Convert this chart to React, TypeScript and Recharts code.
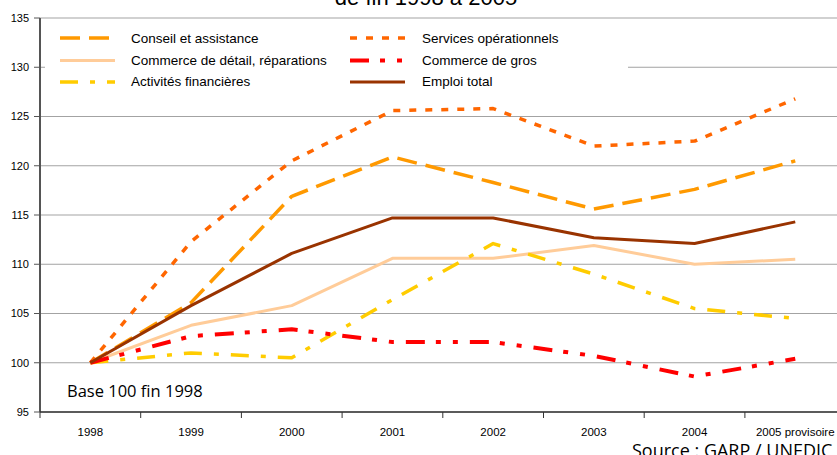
import React from 'react';
import { LineChart, Line, XAxis, YAxis, CartesianGrid, Legend } from 'recharts';

const years = ['1998', '1999', '2000', '2001', '2002', '2003', '2004', '2005 provisoire'];
const conseil = [100, 106.1, 116.9, 120.9, 118.3, 115.6, 117.6, 120.5];
const services = [100, 112.3, 120.5, 125.6, 125.8, 122.0, 122.5, 126.8];
const detail = [100, 103.8, 105.8, 110.6, 110.6, 111.9, 110.0, 110.5];
const gros = [100, 102.7, 103.4, 102.1, 102.1, 100.7, 98.6, 100.4];
const financieres = [100, 101.0, 100.5, 106.4, 112.1, 109.0, 105.5, 104.5];
const emploi = [100, 105.8, 111.1, 114.7, 114.7, 112.7, 112.1, 114.3];
const yTicks = [95, 100, 105, 110, 115, 120, 125, 130, 135];

const data = years.map((y, i) => ({
  year: y,
  conseil: conseil[i],
  services: services[i],
  detail: detail[i],
  gros: gros[i],
  financieres: financieres[i],
  emploi: emploi[i],
}));

type S = { key: string; name: string; color: string; width: number; dash?: string };
const series: S[] = [
  { key: 'conseil', name: 'Conseil et assistance', color: '#FF9900', width: 3.5, dash: '20 9' },
  { key: 'detail', name: 'Commerce de détail, réparations', color: '#FFCC99', width: 3 },
  { key: 'financieres', name: 'Activités financières', color: '#FFCC00', width: 3.5, dash: '18 12 5 12' },
  { key: 'services', name: 'Services opérationnels', color: '#FF6600', width: 3.5, dash: '7 9' },
  { key: 'gros', name: 'Commerce de gros', color: '#FF0000', width: 4, dash: '19 11 5 12 5 12' },
  { key: 'emploi', name: 'Emploi total', color: '#993300', width: 3 },
];

const HALF_BAND = 50.35;
const FONT = '"Liberation Sans", Arial, sans-serif';

const XTick = (props: any) => {
  const { x, y, payload } = props;
  return (
    <g>
      <line x1={x - HALF_BAND} x2={x - HALF_BAND} y1={y} y2={y + 6} stroke="#333" strokeWidth={1} />
      <text x={x} y={y + 24} textAnchor="middle" fontSize={11.5} fontFamily={FONT} fill="#000">
        {payload.value}
      </text>
    </g>
  );
};

const LegendBox = () => {
  const cols = [
    { lx: 15, tx: 86 },
    { lx: 305, tx: 377 },
  ];
  const rowsLine = [19, 41.5, 63];
  const rowsText = [24, 46, 67];
  return (
    <svg width={583} height={77} style={{ display: 'block' }}>
      {series.map((s, i) => {
        const c = cols[Math.floor(i / 3)];
        const r = i % 3;
        return (
          <g key={s.key}>
            <line
              x1={c.lx}
              x2={c.lx + 55}
              y1={rowsLine[r]}
              y2={rowsLine[r]}
              stroke={s.color}
              strokeWidth={s.width}
              strokeDasharray={s.dash}
            />
            <text x={c.tx} y={rowsText[r]} fontSize={13.5} fontFamily={FONT} fill="#000">
              {s.name}
            </text>
          </g>
        );
      })}
    </svg>
  );
};

export default function App() {
  return (
    <div style={{ position: 'absolute', left: 0, top: 0, width: 837, height: 455, overflow: 'hidden', background: '#fff' }}>
      <LineChart
        width={860}
        height={455}
        data={data}
        margin={{ top: 18, right: 14.4, left: 0, bottom: 13 }}
      >
        <CartesianGrid vertical={false} stroke="#a3a3a3" strokeWidth={1} />
        <YAxis
          domain={[95, 135]}
          ticks={yTicks}
          interval={0}
          width={40}
          tickSize={6}
          tickMargin={5}
          axisLine={{ stroke: '#555', strokeWidth: 2 }}
          tickLine={{ stroke: '#555' }}
          tick={{ fontSize: 11, fontFamily: FONT, fill: '#000' }}
        />
        <XAxis
          dataKey="year"
          interval={0}
          height={30}
          padding={{ left: HALF_BAND, right: HALF_BAND }}
          tickSize={0}
          tickMargin={0}
          tickLine={false}
          axisLine={{ stroke: '#333', strokeWidth: 1.5 }}
          tick={<XTick />}
        />
        <Legend
          layout="horizontal"
          verticalAlign="middle"
          align="center"
          wrapperStyle={{ left: 45, top: 19, width: 583, height: 77, background: '#fff', margin: 0, padding: 0 }}
          content={() => <LegendBox />}
        />
        {series.map((s) => (
          <Line
            key={s.key}
            type="linear"
            dataKey={s.key}
            name={s.name}
            stroke={s.color}
            strokeWidth={s.width}
            strokeDasharray={s.dash}
            strokeLinecap="butt"
            strokeLinejoin="round"
            dot={false}
            activeDot={false}
            isAnimationActive={false}
          />
        ))}
      </LineChart>
      <svg width={837} height={455} style={{ position: 'absolute', left: 0, top: 0, pointerEvents: 'none' }}>
        <text x={426} y={5} textAnchor="middle" fontSize={22} fontFamily={FONT} fill="#000">
          de fin 1998 à 2005
        </text>
        <text x={67} y={397} fontSize={16.5} fontFamily='"Open Sans", sans-serif' fill="#000">
          Base 100 fin 1998
        </text>
        <text x={632} y={457} fontSize={18} fontFamily='"Open Sans", sans-serif' fill="#000">
          Source : GARP / UNEDIC
        </text>
      </svg>
    </div>
  );
}
